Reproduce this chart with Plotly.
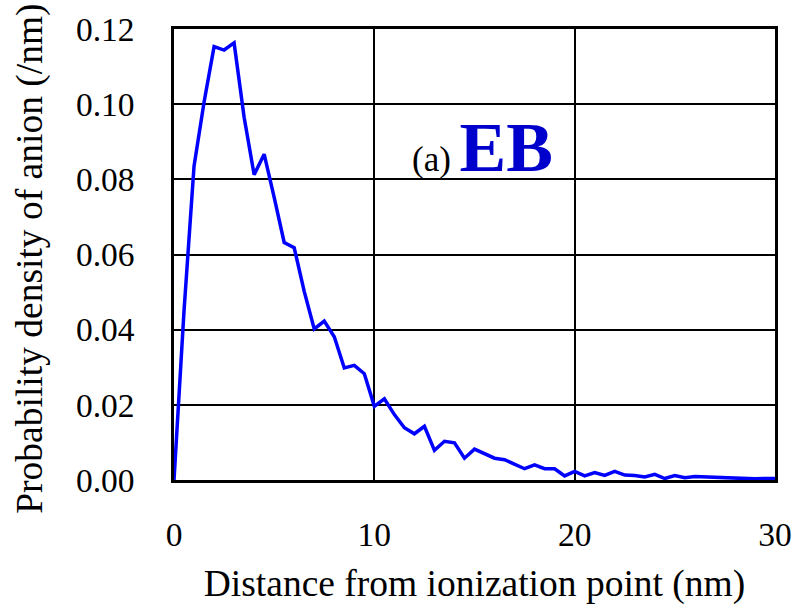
import plotly.graph_objects as go

# Distance from the ionization point (nm)
distance_nm = [
    0.0, 0.5, 1.0, 1.5, 2.0, 2.5, 3.0, 3.5, 4.0, 4.5,
    5.0, 5.5, 6.0, 6.5, 7.0, 7.5, 8.0, 8.5, 9.0, 9.5,
    10.0, 10.5, 11.0, 11.5, 12.0, 12.5, 13.0, 13.5, 14.0, 14.5,
    15.0, 15.5, 16.0, 16.5, 17.0, 17.5, 18.0, 18.5, 19.0, 19.5,
    20.0, 20.5, 21.0, 21.5, 22.0, 22.5, 23.0, 23.5, 24.0, 24.5,
    25.0, 25.5, 26.0, 26.5, 27.0, 27.5, 28.0, 28.5, 29.0, 29.5,
    30.0,
]

# Probability density of anion (/nm)
density = [
    0.0, 0.045, 0.0835, 0.1005, 0.1153, 0.1144, 0.1163, 0.0965, 0.0812, 0.0867,
    0.0752, 0.0632, 0.0618, 0.0502, 0.0402, 0.0423, 0.0381, 0.0298, 0.0305, 0.0283,
    0.0196, 0.0216, 0.0174, 0.0139, 0.0123, 0.0143, 0.0079, 0.0103, 0.0099, 0.0058,
    0.0082, 0.0070, 0.0058, 0.0054, 0.0042, 0.0030, 0.0040, 0.0030, 0.0030, 0.0011,
    0.0023, 0.0011, 0.0020, 0.0012, 0.0023, 0.0013, 0.0012, 0.0008, 0.0015, 0.0004,
    0.0012, 0.0006, 0.0009, 0.0008, 0.0007, 0.0004, 0.0003, 0.0004, 0.0003, 0.0004,
    0.0004,
]

x_ticks = [0, 10, 20, 30]
y_ticks = [0.00, 0.02, 0.04, 0.06, 0.08, 0.10, 0.12]

FONT = "Liberation Serif"

fig = go.Figure()
fig.add_trace(go.Scatter(
    x=distance_nm,
    y=density,
    mode="lines",
    line=dict(color="#0000FF", width=3.5),
    showlegend=False,
    hoverinfo="skip",
))

# Panel label
fig.add_annotation(
    x=11.8, y=0.0885,
    xref="x", yref="y",
    xanchor="left", yanchor="middle",
    text="(a) <b><span style='font-size:70px;color:#0000CC'>EB</span></b>",
    showarrow=False,
    font=dict(family=FONT, size=35, color="black"),
)

# Vertical axis title, placed in paper coordinates
fig.add_annotation(
    x=-0.24, y=0.49,
    xref="paper", yref="paper",
    xanchor="center", yanchor="middle",
    text="Probability density of anion (/nm)",
    textangle=-90,
    showarrow=False,
    font=dict(family=FONT, size=37.5, color="black"),
)

axis_common = dict(
    showgrid=True,
    gridcolor="black",
    gridwidth=2,
    showline=True,
    linecolor="black",
    linewidth=2.5,
    mirror=True,
    zeroline=False,
    ticks="",
    automargin=False,
    tickfont=dict(family=FONT, size=33.5, color="black"),
)

fig.update_xaxes(
    range=[0, 30],
    tickvals=x_ticks,
    ticktext=[str(v) for v in x_ticks],
    ticklabelstandoff=23,
    title=dict(text="Distance from ionization point (nm)",
               font=dict(family=FONT, size=37.5, color="black"),
               standoff=26),
    **axis_common,
)
fig.update_yaxes(
    range=[0, 0.12],
    tickvals=y_ticks,
    tickformat=".2f",
    ticklabelstandoff=30,
    **axis_common,
)

fig.update_layout(
    width=794,
    height=605,
    margin=dict(l=174, r=19, t=29, b=125),
    plot_bgcolor="white",
    paper_bgcolor="white",
    font=dict(family=FONT, color="black"),
)

fig.write_html("out.html")
